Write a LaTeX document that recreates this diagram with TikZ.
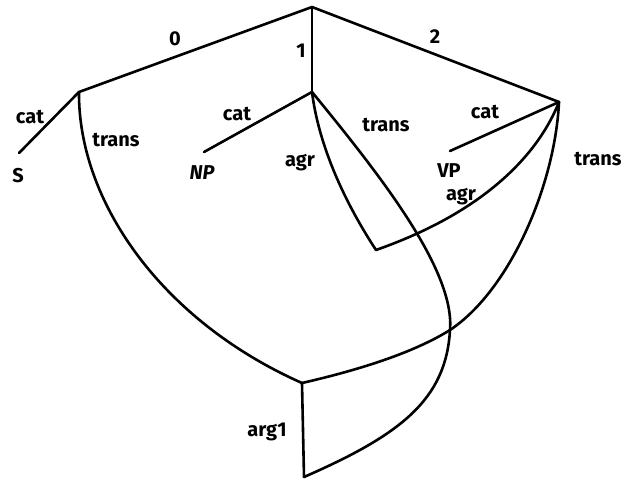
\documentclass[tikz,border=0pt]{standalone}
\usepackage{fontspec}
\setmainfont{Fira Sans}
\begin{document}
\begin{tikzpicture}[x=1pt,y=-1pt]
\tikzset{
  edge/.style={draw, line width=2.6pt, line join=round, line cap=round},
  lbl/.style={font=\fontsize{20}{23}\selectfont\bfseries, inner sep=0pt, anchor=center}
}
\useasboundingbox (0,0) rectangle (636,481);
% points
\coordinate (R) at (312,7);
\coordinate (N0) at (79,92);
\coordinate (N1) at (312,92);
\coordinate (N2) at (559,102);
\coordinate (Se) at (19,153);
\coordinate (NPe) at (204,152);
\coordinate (VPe) at (450,151);
\coordinate (NA) at (376,250);
\coordinate (N3) at (302,383);
\coordinate (N4) at (304,477);
\coordinate (X) at (450,330);
% edges
\draw[edge] (R) -- (N0);
\draw[edge] (R) -- (N1);
\draw[edge] (R) -- (N2);
\draw[edge] (N0) -- (Se);
\draw[edge] (N1) -- (NPe);
\draw[edge] (N2) -- (VPe);
\draw[edge] (N0) .. controls (78,200) and (160,320) .. (N3);
\draw[edge] (N1) .. controls (318,140) and (340,195) .. (NA);
\draw[edge] (N2) .. controls (540,150) and (490,210) .. (NA);
\draw[edge] (N1) .. controls (380,175) and (455,270) .. (X) .. controls (446,400) and (400,435) .. (N4);
\draw[edge] (N2) .. controls (555,185) and (510,290) .. (X) .. controls (410,355) and (350,372) .. (N3);
\draw[edge] (N3) -- (N4);
% labels
\node[lbl] (l0) at (175,39) {0};
\node[lbl] (l1) at (301,51) {1};
\node[lbl] (l2) at (435,37) {2};
\node[lbl] (catS) at (30,117) {cat};
\node[lbl] (S) at (18,176) {S};
\node[lbl] (tr0) at (116,140) {trans};
\node[lbl] (catNP) at (237,114) {cat};
\node[lbl] (NP) at (202,173) {\itshape NP};
\node[lbl] (agr1) at (300,163) {agr};
\node[lbl] (tr1) at (386,125) {trans};
\node[lbl] (catVP) at (485,112) {cat};
\node[lbl] (VP) at (449,171) {VP};
\node[lbl] (agr2) at (461,197) {agr};
\node[lbl] (tr2) at (598,159) {trans};
\node[lbl] (arg1) at (267,432) {arg1};
\end{tikzpicture}
\end{document}
